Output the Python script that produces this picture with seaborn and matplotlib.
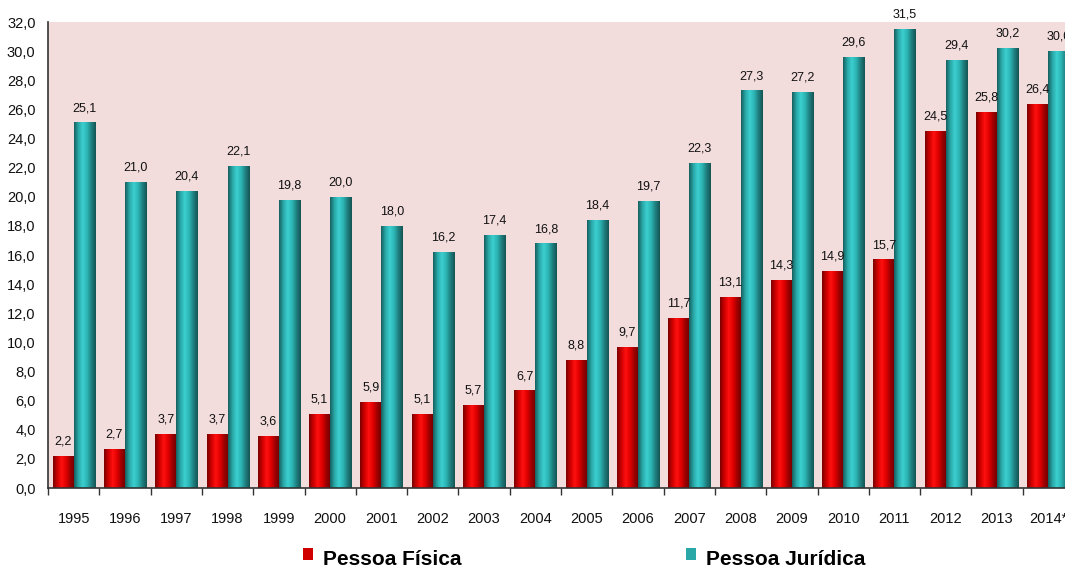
import numpy as np
import pandas as pd
import matplotlib
matplotlib.use("Agg")
import matplotlib.pyplot as plt
from matplotlib.colors import LinearSegmentedColormap
from matplotlib.patches import Rectangle
import seaborn as sns

anos = ["1995", "1996", "1997", "1998", "1999", "2000", "2001", "2002", "2003", "2004",
        "2005", "2006", "2007", "2008", "2009", "2010", "2011", "2012", "2013", "2014*"]
pessoa_fisica = [2.2, 2.7, 3.7, 3.7, 3.6, 5.1, 5.9, 5.1, 5.7, 6.7,
                 8.8, 9.7, 11.7, 13.1, 14.3, 14.9, 15.7, 24.5, 25.8, 26.4]
pessoa_juridica = [25.1, 21.0, 20.4, 22.1, 19.8, 20.0, 18.0, 16.2, 17.4, 16.8,
                   18.4, 19.7, 22.3, 27.3, 27.2, 29.6, 31.5, 29.4, 30.2, 30.0]
series = ["Pessoa Física", "Pessoa Jurídica"]
yticks = np.arange(0, 33, 2)

df = pd.DataFrame({
    "ano": anos * 2,
    "valor": pessoa_fisica + pessoa_juridica,
    "tipo": [series[0]] * len(anos) + [series[1]] * len(anos),
})

sns.set_theme(style="white")
plt.rcParams["font.family"] = ["Liberation Sans", "DejaVu Sans"]

fig = plt.figure(figsize=(10.65, 5.67), dpi=100)
ax = fig.add_axes([48 / 1065, 79 / 567, 1026 / 1065, 466 / 567])
ax.set_facecolor("#F2DCDC")

palette = {series[0]: "#E00000", series[1]: "#2AB4B4"}
sns.barplot(data=df, x="ano", y="valor", hue="tipo", hue_order=series,
            palette=palette, width=0.82, saturation=1, legend=False, ax=ax,
            edgecolor="none", linewidth=0)

# cylinder-like shading over each bar
cmaps = {
    series[0]: LinearSegmentedColormap.from_list(
        "verm", ["#7A0000", "#D00000", "#FF1010", "#E00000", "#9A0000", "#700000"]),
    series[1]: LinearSegmentedColormap.from_list(
        "teal", ["#16605F", "#2AA8A8", "#3CCFCF", "#2DB5B5", "#1F7F7F", "#155555"]),
}
grad = np.linspace(0, 1, 64).reshape(1, -1)
for cont, nome in zip(ax.containers, series):
    for bar in cont:
        x0, w, h = bar.get_x(), bar.get_width(), bar.get_height()
        im = ax.imshow(grad, cmap=cmaps[nome], aspect="auto",
                       extent=(x0, x0 + w, 0, h), zorder=bar.get_zorder() + 0.1,
                       interpolation="bilinear")
        im.set_clip_path(bar)
    ax.bar_label(cont, labels=[f"{v:.1f}".replace(".", ",") for v in cont.datavalues],
                 padding=6, fontsize=9, color="#111111")

ax.set_xlim(-0.5, len(anos) - 0.5)
ax.set_ylim(0, 32)
ax.set_yticks(yticks)
ax.set_yticklabels([f"{v:.1f}".replace(".", ",") for v in yticks], fontsize=10.5)
ax.set_xticks(np.arange(len(anos)))
ax.set_xticklabels(anos, fontsize=10.5)
ax.set_xticks(np.arange(len(anos) + 1) - 0.5, minor=True)
ax.tick_params(axis="x", which="major", length=0, pad=17, colors="#111111")
ax.tick_params(axis="x", which="minor", bottom=True, length=5, width=1,
               color="#333333", direction="out")
ax.tick_params(axis="y", length=4, width=1, color="#333333", direction="out",
               pad=5, colors="#111111")
ax.set_xlabel("")
ax.set_ylabel("")
for s in ["top", "right"]:
    ax.spines[s].set_visible(False)
for s in ["left", "bottom"]:
    ax.spines[s].set_color("#333333")
    ax.spines[s].set_linewidth(1.2)

# legend below the plot
for (x_sq, x_txt, nome, cor) in [(303, 323, series[0], "#D00000"),
                                 (686, 706, series[1], "#2AA8A8")]:
    fig.patches.append(Rectangle((x_sq / 1065, (567 - 560) / 567), 10 / 1065, 12 / 567,
                                 transform=fig.transFigure, facecolor=cor,
                                 edgecolor="none", figure=fig))
    fig.text(x_txt / 1065, (567 - 565) / 567, nome, fontsize=15, fontweight="bold",
             color="#000000", ha="left", va="baseline")

fig.savefig("out.png", dpi=100)
